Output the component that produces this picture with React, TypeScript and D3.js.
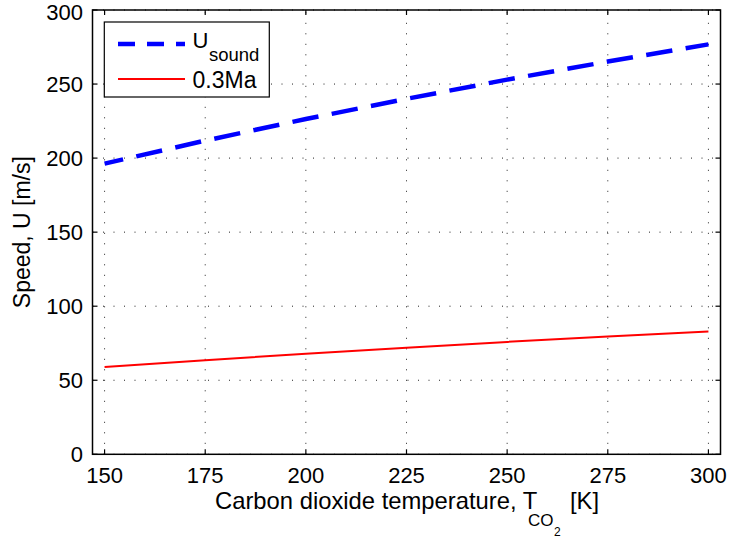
import React from "react";
import * as d3 from "d3";

const temperatures = [150, 175, 200, 225, 250, 275, 300];
const soundSpeed = [196.3, 211.8, 226.4, 240.0, 253.0, 265.2, 276.8];
const machPoint3 = [58.9, 63.5, 67.9, 72.0, 75.9, 79.6, 83.0];
const xTicks = [150, 175, 200, 225, 250, 275, 300];
const yTicks = [0, 50, 100, 150, 200, 250, 300];

const W = 730;
const H = 537;
const L = 92.5;
const R = 720.5;
const T = 10;
const B = 454.3;
const FONT = "'Liberation Sans', Arial, Helvetica, sans-serif";

export default function App() {
  const x = d3.scaleLinear().domain([147, 303]).range([L, R]);
  const y = d3.scaleLinear().domain([0, 300]).range([B, T]);
  const line = d3
    .line<number>()
    .x((_, i) => x(temperatures[i]))
    .y((d) => y(d));
  const tickLen = 5;

  return (
    <svg
      width={W}
      height={H}
      style={{ position: "absolute", left: 0, top: 0, background: "#fff" }}
      fontFamily={FONT}
    >
      <rect x={0} y={0} width={W} height={H} fill="#fff" />
      {/* grid */}
      {xTicks.map((t) => (
        <line
          key={"gx" + t}
          x1={x(t)}
          x2={x(t)}
          y1={B}
          y2={T}
          stroke="#222"
          strokeWidth={1}
          strokeDasharray="1,9.5"
        />
      ))}
      {yTicks.map((t) => (
        <line
          key={"gy" + t}
          x1={L}
          x2={R}
          y1={y(t)}
          y2={y(t)}
          stroke="#222"
          strokeWidth={1}
          strokeDasharray="1,9.5"
        />
      ))}
      {/* data */}
      <path
        d={line(soundSpeed) || ""}
        fill="none"
        stroke="#0000ff"
        strokeWidth={4.5}
        strokeDasharray="26.5,13.5"
        strokeDashoffset={7.5}
      />
      <path d={line(machPoint3) || ""} fill="none" stroke="#ff0000" strokeWidth={2} />
      {/* axes box */}
      <rect x={L} y={T} width={R - L} height={B - T} fill="none" stroke="#000" strokeWidth={1.5} />
      {xTicks.map((t) => (
        <g key={"tx" + t}>
          <line x1={x(t)} x2={x(t)} y1={B} y2={B - tickLen} stroke="#000" strokeWidth={1.2} />
          <line x1={x(t)} x2={x(t)} y1={T} y2={T + tickLen} stroke="#000" strokeWidth={1.2} />
          <text x={x(t)} y={483} textAnchor="middle" fontSize={22} fill="#000">
            {t}
          </text>
        </g>
      ))}
      {yTicks.map((t) => (
        <g key={"ty" + t}>
          <line x1={L} x2={L + tickLen} y1={y(t)} y2={y(t)} stroke="#000" strokeWidth={1.2} />
          <line x1={R} x2={R - tickLen} y1={y(t)} y2={y(t)} stroke="#000" strokeWidth={1.2} />
          <text x={83} y={Math.max(y(t) + 8, 20)} textAnchor="end" fontSize={22} fill="#000">
            {t}
          </text>
        </g>
      ))}
      {/* axis labels */}
      <text x={215} y={509} fontSize={23.8} fill="#000">
        Carbon dioxide temperature, T
        <tspan x={528} fontSize={17} dy={17}>CO</tspan>
        <tspan x={554} fontSize={12} dy={9.5}>2</tspan>
        <tspan x={570} fontSize={23.8} dy={-26.5}>[K]</tspan>
      </text>
      <text
        transform={`translate(29.5, ${(T + B) / 2}) rotate(-90)`}
        textAnchor="middle"
        fontSize={23}
        fill="#000"
      >
        Speed, U [m/s]
      </text>
      {/* legend */}
      <rect x={104.3} y={22} width={165} height={75} fill="#fff" stroke="#000" strokeWidth={1.2} />
      <line x1={118} x2={185} y1={44} y2={44} stroke="#0000ff" strokeWidth={4.5} strokeDasharray="17,12" />
      <line x1={118} x2={185} y1={79} y2={79} stroke="#ff0000" strokeWidth={2} />
      <text x={192.5} y={48} fontSize={22} fill="#000">
        U<tspan x={209} fontSize={18.5} dy={13}>sound</tspan>
      </text>
      <text x={192.5} y={88} fontSize={23} fill="#000">
        0.3Ma
      </text>
    </svg>
  );
}
